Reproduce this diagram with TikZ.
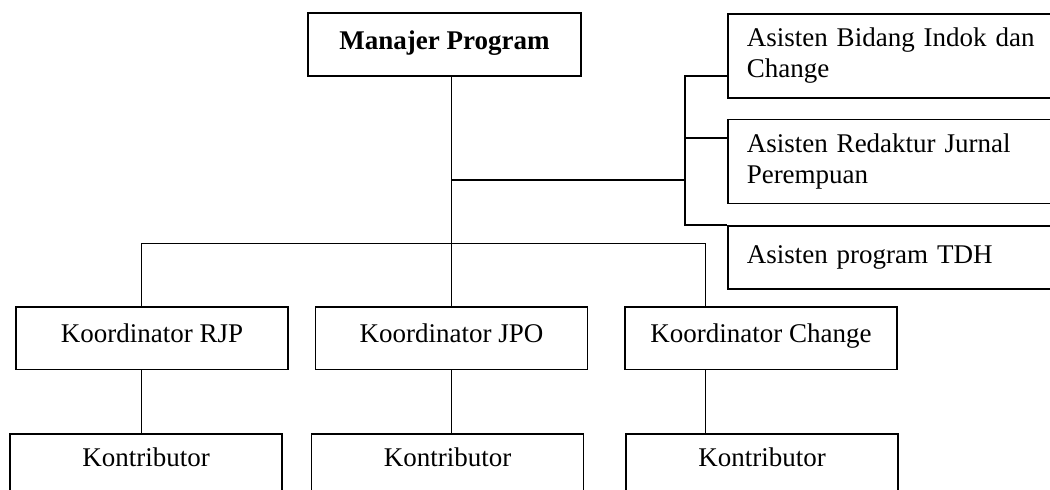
\documentclass[tikz,border=0pt]{standalone}
\usepackage{fontspec}
\setmainfont{Liberation Serif}
\usetikzlibrary{positioning,calc}
\tikzset{
unit/.style={draw=black,line width=0.75pt,inner sep=0pt,font=\fontsize{13.5}{15.5}\selectfont,align=center},
oneline/.style={unit,text height=9pt,text depth=4.5pt},
head/.style={oneline,minimum width=136.5pt,minimum height=31.5pt,font=\fontsize{13.5}{15.5}\selectfont\bfseries},
koor/.style={oneline,minimum width=136pt,minimum height=31.25pt},
kontrib/.style={unit,text height=9pt,text depth=9pt,minimum width=136pt,minimum height=32pt},
asis/.style={unit,align=left,text width=157.5pt,inner xsep=9.5pt},
link/.style={line width=0.75pt}
}
\begin{document}
\begin{tikzpicture}[x=0.5pt,y=-0.5pt]
\path[use as bounding box,clip] (0,0) rectangle (1050,489);
% top
\node[head] (mgr) at (444.5,44.5) {Manajer Program};
% assistants
\node[asis,minimum height=42pt,anchor=north west] (as1) at (727,13) {Asisten Bidang Indok dan\\Change};
\node[asis,minimum height=42pt,below=10pt of as1] (as2) {Asisten Redaktur Jurnal\\Perempuan};
\node[asis,minimum height=31.5pt,below=10.5pt of as2] (as3) {Asisten program TDH};
% coordinators
\node[koor] (rjp) at (152,338) {Koordinator RJP};
\node[koor,right=13pt of rjp] (jpo) {Koordinator JPO};
\node[koor,right=18pt of jpo] (chg) {Koordinator Change};
% contributors
\node[kontrib] (kon1) at (146,466) {Kontributor};
\node[kontrib] (kon2) at (447.5,466) {Kontributor};
\node[kontrib] (kon3) at (762,466) {Kontributor};
% lines
\coordinate (barL) at (141.6,243.5);
\coordinate (barR) at (705.5,243.5);
\coordinate (brk) at (685,180);
\coordinate (tie1) at (685,76);
\coordinate (tie2) at (685,138);
\draw[link] (mgr.south -| jpo.north) -- (jpo.north);
\draw[link] (barL |- rjp.north) -- (barL) -- (barR) -- (barR |- chg.north);
\draw[link] (brk -| jpo.north) -- (brk);
\draw[link] (as1.west |- tie1) -- (tie1) |- (as3.north west);
\draw[link] (tie2) -- (as2.west |- tie2);
\draw[link] (barL |- rjp.south) -- (barL |- kon1.north);
\draw[link] (jpo.south) -- (jpo.south |- kon2.north);
\draw[link] (barR |- chg.south) -- (barR |- kon3.north);
\end{tikzpicture}
\end{document}
